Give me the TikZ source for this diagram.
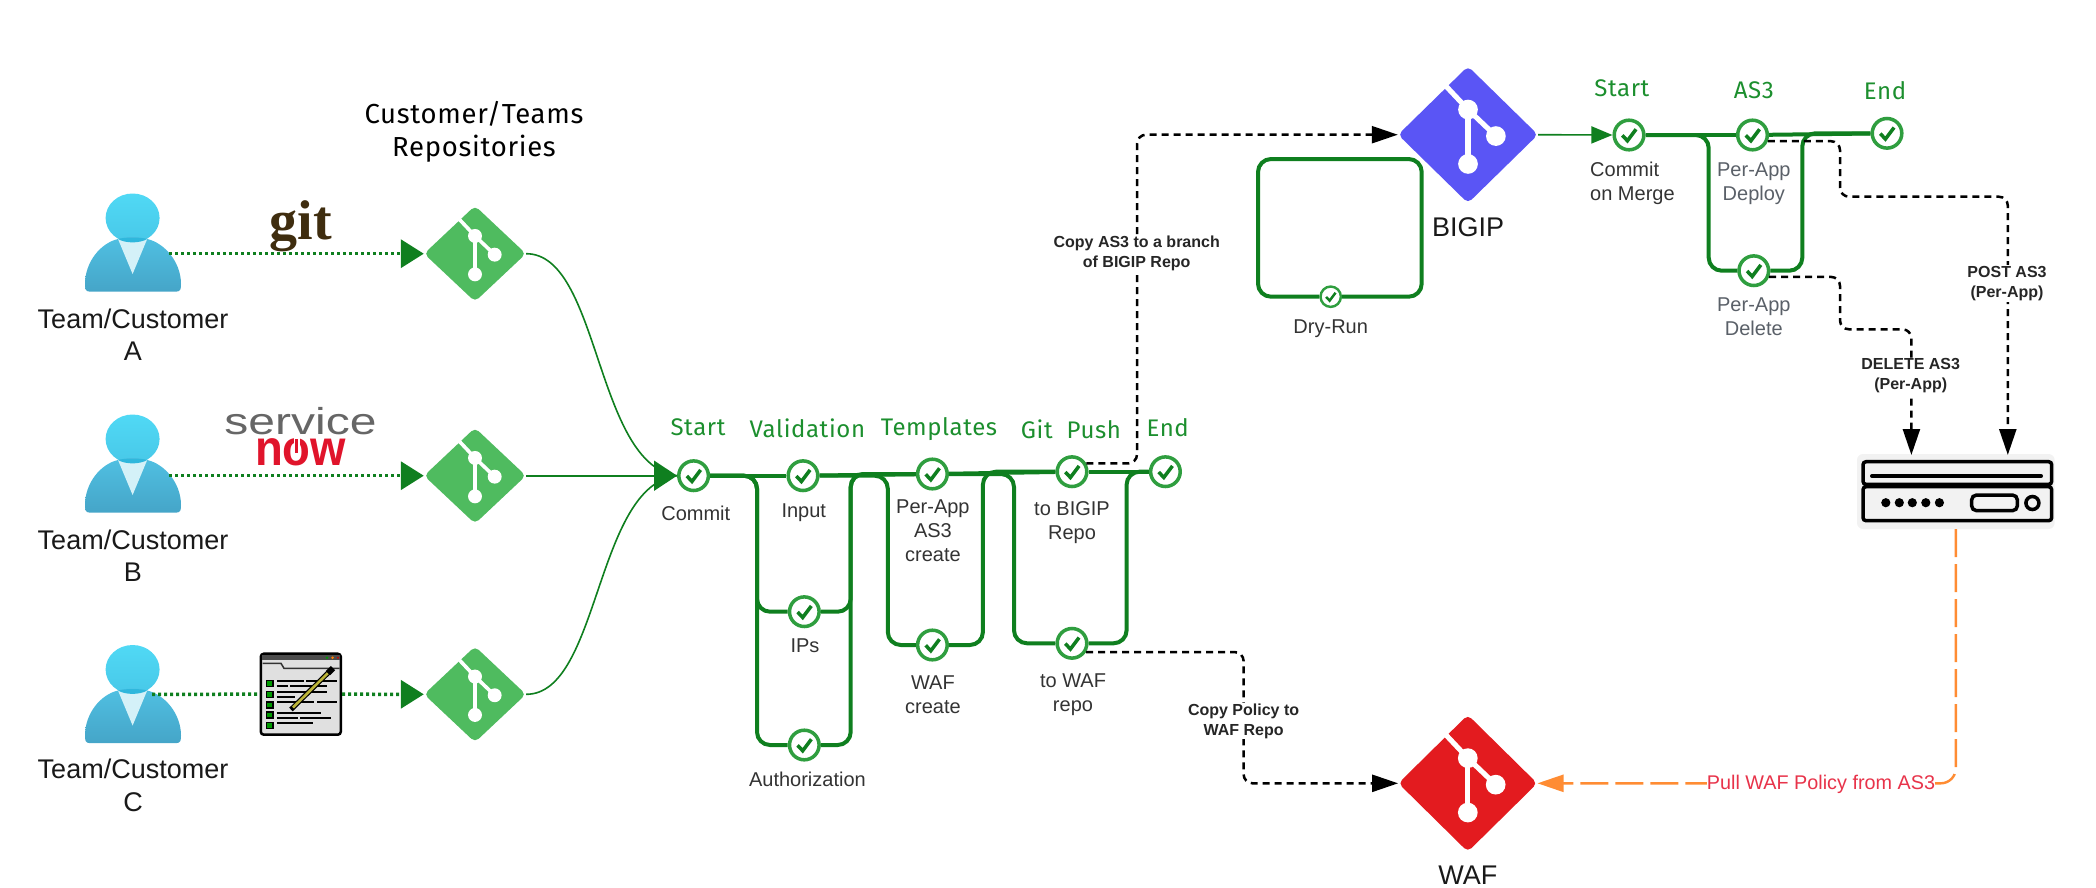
\documentclass[tikz,border=0pt]{standalone}
\usepackage{fontspec}
\setmainfont{Liberation Sans}
\newfontfamily\titlefont[LetterSpace=2.5]{Fira Sans}
\usetikzlibrary{arrows.meta,shapes.geometric}
\definecolor{flowgreen}{HTML}{0F7F1F}
\definecolor{ringgreen}{HTML}{2F9E3F}
\definecolor{titlegreen}{HTML}{1C8F2E}
\definecolor{repogreen}{HTML}{4FBB5F}
\definecolor{repoblue}{HTML}{5A55F5}
\definecolor{repored}{HTML}{E31B1F}
\definecolor{labelgrey}{HTML}{333333}
\definecolor{softgrey}{HTML}{5A6068}
\definecolor{pullorange}{HTML}{FF8C33}
\definecolor{pullred}{HTML}{E8334A}
\definecolor{gitbrown}{HTML}{3F2D0F}
\definecolor{nowred}{HTML}{E0142B}
\definecolor{headtop}{HTML}{50D9F5}
\definecolor{headlow}{HTML}{48C8E8}
\definecolor{bodytop}{HTML}{50C0E2}
\definecolor{bodylow}{HTML}{45A5C8}
\definecolor{collar}{HTML}{D4F1F8}
\definecolor{neckblue}{HTML}{2FB7DC}
\tikzset{
  repo/.style n args={3}{diamond,aspect=1,inner sep=0pt,fill=#1,rounded corners=5pt,
    minimum width=#2pt,minimum height=#3pt},
  stagemark/.style={circle,draw=ringgreen,fill=white,line width=#1*.22pt,inner sep=0pt,
    minimum size=#1*1.85pt,
    path picture={\draw[flowgreen,line width=#1*.22pt,shift={(path picture bounding box.center)}]
      (-#1*.42,#1*.02) -- (-#1*.1,#1*.36) -- (#1*.44,-#1*.36);}},
  stagemark/.default=16,
  steplabel/.style={inner sep=0pt,align=center,text=labelgrey,font=\fontsize{20}{24}\selectfont},
  softlabel/.style={steplabel,text=softgrey},
  titlelabel/.style={inner sep=0pt,text=titlegreen,font=\titlefont\fontsize{24}{29}\selectfont},
  teamlabel/.style={inner sep=0pt,align=center,text=black!90,font=\fontsize{27}{32.5}\selectfont},
  copylabel/.style={fill=white,inner sep=1pt,align=center,text=black!85,font=\bfseries\fontsize{16}{20}\selectfont},
  mainflow/.style={flowgreen,line width=4pt,rounded corners=13pt},
  thinflow/.style={flowgreen,line width=1.6pt},
  teamflow/.style={flowgreen,line width=3.5pt,dash pattern=on 3pt off 3pt,
    -{Triangle[length=23pt,width=28pt]}},
  copyflow/.style={black,line width=2.5pt,dash pattern=on 7pt off 5pt,rounded corners=9pt,
    -{Triangle[length=26pt,width=17pt]}},
  pullflow/.style={pullorange,line width=2.4pt,dash pattern=on 28pt off 7pt,rounded corners=15pt,
    -{Triangle[length=26pt,width=17pt]}},
  pics/gitmark/.style={code={
    \draw[white,line width=#1*.075pt] (-#1*.32,-#1*.71) -- (0,-#1*.37) -- (#1*.41,#1*.02);
    \draw[white,line width=#1*.075pt] (0,-#1*.37) -- (0,#1*.43);
    \fill[white] (0,-#1*.37) circle (#1*.145pt) (#1*.41,#1*.02) circle (#1*.145pt) (0,#1*.43) circle (#1*.145pt);
  }},
  pics/teamicon/.style={code={
    \shade[top color=headtop,bottom color=headlow] (0,0) ellipse (27pt and 24.5pt);
    \shade[top color=bodytop,bottom color=bodylow]
      (-42.6,73.7) .. controls (-47.6,73.7) and (-47.6,70) .. (-47.6,66)
      .. controls (-47.6,44) and (-32,25) .. (-14.6,21)
      .. controls (-6,18.5) and (6,18.5) .. (14.6,21)
      .. controls (32,25) and (48.4,44) .. (48.4,66)
      .. controls (48.4,70) and (48.4,73.7) .. (43.4,73.7) -- cycle;
    \fill[collar] (-14.6,21) -- (14.6,21) -- (0,56) -- cycle;
    \fill[neckblue] (-14.6,21) .. controls (-7,25.5) and (7,25.5) .. (14.6,21)
      .. controls (7,19) and (-7,19) .. (-14.6,21) -- cycle;
  }}
}
\begin{document}
\begin{tikzpicture}[x=1pt,y=-1pt]
\useasboundingbox (0,0) rectangle (2096,887);
% team icons
\pic at (132.6,218) {teamicon};
\pic at (132.6,439) {teamicon};
\pic at (132.6,669.5) {teamicon};
\node[teamlabel] (teamA) at (133,334.5) {Team/Customer\\A};
\node[teamlabel] (teamB) at (133,555.5) {Team/Customer\\B};
\node[teamlabel] (teamC) at (133,785.5) {Team/Customer\\C};
\coordinate (teamAout) at (169,253.7);
\coordinate (teamBout) at (169,475.7);
\coordinate (teamCout) at (152,694.3);
% team repos
\node[inner sep=0pt,align=center,text=black,font=\titlefont\fontsize{27.5}{32.5}\selectfont] (repoTitle) at (474,132) {Customer/Teams\\Repositories};
\node[repo={repogreen}{102}{96}] (repoA) at (475,253.7) {};
\node[repo={repogreen}{102}{96}] (repoB) at (475,475.7) {};
\node[repo={repogreen}{102}{96}] (repoC) at (475,694.3) {};
\pic at (repoA) {gitmark=48};
\pic at (repoB) {gitmark=48};
\pic at (repoC) {gitmark=48};
% tool logos
\node[inner sep=0pt,text=gitbrown,font=\fontspec{Liberation Serif}\bfseries\fontsize{56}{60}\selectfont] (gitLogo) at (301,226) {git};
\node[inner sep=0pt,text=black!60,yscale=.78,font=\fontsize{48}{50}\selectfont] (snowLogo) at (300.5,421) {service};
\node[inner sep=0pt,text=nowred,xscale=.91,font=\bfseries\fontsize{50}{54}\selectfont] (nowLogo) at (300.5,452) {now};
\draw[white,line width=6pt] (296.7,436) -- (296.7,447);
\draw[nowred,line width=3.5pt] (296.7,439) -- (296.7,453);
\node[draw=black,fill=black!12,line width=2.5pt,rounded corners=3pt,inner sep=0pt,minimum width=80pt,minimum height=81pt] (formIcon) at (300.8,694.2) {};
\fill[black!70] (262,655) rectangle (339.6,660);
\fill[green!60!black] (327,657.7) circle (1.4pt);
\fill[orange] (332.6,657.7) circle (1.4pt);
\fill[red!80!black] (338,657.7) circle (1.2pt);
\draw[black!80,line width=1.5pt] (262.5,663.3) -- (281,663.3) -- (284,668.3) -- (339.5,668.3);
\draw[black,line width=2pt] (276.8,681) -- (303.6,681) (305.8,681) -- (337,681)
  (276.8,686) -- (288,686) (290,686) -- (326.8,686)
  (276.8,691.7) -- (326.8,691.7)
  (276.8,696.7) -- (294.6,696.7)
  (276.8,702.3) -- (313.8,702.3) (317,702.3) -- (337,702.3)
  (276.8,712.7) -- (321.4,712.7)
  (276.8,718) -- (298,718) (300.4,718) -- (330.8,718)
  (276.8,723) -- (312.5,723);
\draw[black,fill=green!60!black,line width=1.3pt] (266.2,680.3) rectangle (273,686.3)
  (266.2,691.3) rectangle (273,697.3) (266.2,702) rectangle (273,708)
  (266.2,712) rectangle (273,718) (266.2,722.7) rectangle (273,728.7);
\draw[black,line width=5pt] (291,709.5) -- (330,671);
\draw[yellow!70!black,line width=2.6pt] (293,707.5) -- (328,673);
\draw[black,line width=6pt] (328,673) -- (333,668);
% start stage first, the team repos flow into it
\node[stagemark] (cStart) at (693.6,475.7) {};
\draw[teamflow] (teamAout) -- (repoA.west);
\draw[teamflow] (teamBout) -- (repoB.west);
\draw[flowgreen,line width=3.5pt,dash pattern=on 3pt off 3pt] (teamCout) -- (formIcon.west);
\draw[teamflow] (formIcon.east) -- (repoC.west);
\draw[thinflow] (repoA.east) .. controls (600,253.7) and (595,465) .. (cStart.west);
\draw[thinflow] (repoC.east) .. controls (600,694.3) and (595,485) .. (cStart.west);
\draw[thinflow,-{Triangle[length=23pt,width=30pt]}] (repoB.east) -- (cStart.west);
% first pipeline
\node[stagemark] (cInput) at (803,475.7) {};
\node[stagemark] (cIPs) at (804.3,611.7) {};
\node[stagemark] (cAuth) at (804.3,745) {};
\node[stagemark] (cPerApp) at (932.4,474) {};
\node[stagemark] (cWafCreate) at (932.4,645) {};
\node[stagemark] (cBigipRepo) at (1072,471.7) {};
\node[stagemark] (cToWaf) at (1072,643.3) {};
\node[stagemark] (cEnd) at (1165.4,471.7) {};
\coordinate (valL) at (757,560);
\coordinate (valR) at (850.7,560);
\coordinate (tplL) at (887.8,560);
\coordinate (tplR) at (982.9,560);
\coordinate (gitL) at (1014,560);
\coordinate (gitR) at (1126.6,560);
\draw[mainflow] (cStart) -- (cInput);
\draw[mainflow] (cInput) -- (cPerApp);
\draw[mainflow] (cPerApp) -- (cBigipRepo);
\draw[mainflow] (cBigipRepo) -- (cEnd);
\draw[mainflow] (cStart) -| (valL) |- (cIPs);
\draw[mainflow] (cStart) -| (valL) |- (cAuth);
\draw[mainflow] (cIPs) -| (valR) |- (cPerApp);
\draw[mainflow] (cAuth) -| (valR) |- (cPerApp);
\draw[mainflow] (cInput) -| (tplL) |- (cWafCreate);
\draw[mainflow] (cWafCreate) -| (tplR) |- (cBigipRepo);
\draw[mainflow] (cPerApp) -| (gitL) |- (cToWaf);
\draw[mainflow] (cToWaf) -| (gitR) |- (cEnd);
\node[titlelabel] (tStart) at (698,427) {Start};
\node[titlelabel] (tValidation) at (807.4,428) {Validation};
\node[titlelabel] (tTemplates) at (939,429) {Templates};
\node[titlelabel] (tGitPush) at (1071,429) {Git\hspace{7pt} Push};
\node[titlelabel] (tEnd) at (1167.7,427.7) {End};
\node[steplabel] (lCommit) at (695.8,513) {Commit};
\node[steplabel] (lInput) at (803.8,512.7) {Input};
\node[steplabel] (lIPs) at (805,646) {IPs};
\node[steplabel] (lAuth) at (807.4,779) {Authorization};
\node[steplabel] (lPerApp) at (932.9,530.7) {Per-App\\AS3\\create};
\node[steplabel] (lWafCreate) at (932.9,694.5) {WAF\\create};
\node[steplabel] (lBigipRepo) at (1072,522.3) {to BIGIP\\Repo};
\node[steplabel] (lToWaf) at (1073,694.5) {to WAF\\repo};
% bigip repo and dry run
\node[stagemark=11] (cDry) at (1330.7,296.7) {};
\coordinate (dryNW) at (1258,159);
\coordinate (dryNE) at (1421.7,159);
\draw[mainflow] (cDry) -| (dryNW) -- (dryNE) |- (cDry);
\node[repo={repoblue}{140}{137}] (bigip) at (1468,134.7) {};
\pic at (bigip) {gitmark=68};
\node[teamlabel,font=\fontsize{27}{32}\selectfont] (lBigip) at (1468,226.7) {BIGIP};
\node[steplabel] (lDry) at (1330.7,329) {Dry-Run};
% second pipeline
\node[stagemark] (cAs3Start) at (1629,135) {};
\node[stagemark] (cDeploy) at (1752.5,135) {};
\node[stagemark] (cDelete) at (1753.8,270.7) {};
\node[stagemark] (cAs3End) at (1887,133.3) {};
\coordinate (as3L) at (1708.7,200);
\coordinate (as3R) at (1802.3,200);
\draw[thinflow,-{Triangle[length=21pt,width=17pt]}] (bigip.east) -- (cAs3Start.west);
\draw[mainflow] (cAs3Start) -- (cDeploy);
\draw[mainflow] (cDeploy) -- (cAs3End);
\draw[mainflow] (cAs3Start) -| (as3L) |- (cDelete);
\draw[mainflow] (cDelete) -| (as3R) |- (cAs3End);
\node[titlelabel] (tStartB) at (1621.8,88.3) {Start};
\node[titlelabel] (tAs3) at (1753.8,90) {AS3};
\node[titlelabel] (tEndB) at (1885,90.7) {End};
\node[steplabel,align=left,anchor=west] (lMerge) at (1590,183.5) {Commit\\on Merge};
\node[softlabel] (lDeploy) at (1753.8,184) {Per-App\\Deploy};
\node[softlabel] (lDelete) at (1753.8,316.5) {Per-App\\Delete};
% device
\node[fill=black!5,rounded corners=6pt,inner sep=0pt,minimum width=197.6pt,minimum height=75pt] (device) at (1955.8,491.5) {};
\draw[black,line width=3.5pt,rounded corners=3pt] (1863,461.7) rectangle (2051.7,484.3)
  (1863,486.7) rectangle (2051.7,520.7);
\draw[black,line width=4pt,line cap=round] (1872,476) -- (2041,476);
\fill[black] (1885.8,502.7) circle (4.6pt) (1899.3,502.7) circle (4.6pt) (1912.3,502.7) circle (4.6pt)
  (1925.8,502.7) circle (4.6pt) (1939.4,502.7) circle (4.6pt);
\draw[black,line width=3.5pt,rounded corners=5pt] (1971.6,495) rectangle (2017.4,510.7);
\draw[black,line width=3.5pt] (2032.4,503) circle (6.5pt);
\coordinate (devPost) at (2007.8,455);
\coordinate (devDelete) at (1911.4,455);
% waf repo
\node[repo={repored}{139}{137}] (waf) at (1467.8,783.3) {};
\pic at (waf) {gitmark=68};
\node[teamlabel,font=\fontsize{27}{32}\selectfont] (lWaf) at (1467.8,875) {WAF};
% copy and pull flows
\coordinate (copyV) at (1137,300);
\coordinate (policyV) at (1243.6,720);
\coordinate (postA) at (1840,196.7);
\coordinate (deleteA) at (1840,329.3);
\draw[copyflow] (cBigipRepo.30) -| (copyV) |- (bigip.west);
\draw[copyflow] (cToWaf.-32) -| (policyV) |- (waf.west);
\draw[copyflow] (cDeploy.-22) -| (postA) -| (devPost);
\draw[copyflow] (cDelete.-22) -| (deleteA) -| (devDelete);
\draw[pullflow] (device.south) |- (waf.east);
\node[copylabel] (lCopyAs3) at (1136.7,253) {Copy AS3 to a branch\\of BIGIP Repo};
\node[copylabel] (lCopyPolicy) at (1243.6,721) {Copy Policy to\\WAF Repo};
\node[copylabel] (lPost) at (2007,283.5) {POST AS3\\(Per-App)};
\node[copylabel] (lDeleteAs3) at (1910.7,376) {DELETE AS3\\(Per-App)};
\node[fill=white,inner sep=0pt,text=pullred,font=\fontsize{19.8}{24}\selectfont] (lPull) at (1821,784) {Pull WAF Policy from AS3};
\end{tikzpicture}
\end{document}
